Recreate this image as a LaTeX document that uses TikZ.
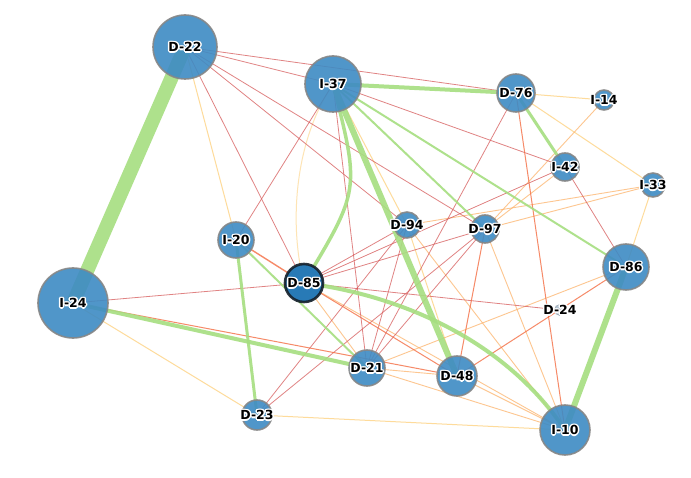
\documentclass[tikz,border=0pt]{standalone}
\usepackage{fontspec}
\newfontfamily\lblfont{DejaVu Sans}
\usetikzlibrary{calc}
\pgfdeclarelayer{bg}
\pgfsetlayers{bg,main}
\definecolor{ngreen}{RGB}{166,222,128}
\definecolor{nred}{RGB}{214,90,90}
\definecolor{nored}{RGB}{244,109,67}
\definecolor{norange}{RGB}{253,174,97}
\definecolor{nyellow}{RGB}{254,210,130}
\definecolor{nodefill}{RGB}{62,139,196}
\definecolor{nodeborder}{RGB}{135,135,135}
\definecolor{selfill}{RGB}{40,122,182}
\definecolor{selborder}{RGB}{22,32,42}
\definecolor{dimfill}{RGB}{172,190,206}
\tikzset{
  vert/.style={circle, fill=nodefill, fill opacity=0.9, draw=nodeborder, draw opacity=0.9, line width=1.6pt, inner sep=0pt, minimum size=#1},
  selvert/.style={vert=#1, fill=selfill, fill opacity=1, draw=selborder, line width=2.6pt},
  dimvert/.style={vert=#1, fill=dimfill, draw=dimfill!70!gray, line width=0.8pt},
  gl/.style={draw=ngreen, line width=#1, opacity=0.9},
  rl/.style={draw=nred, line width=0.8pt, opacity=0.75},
  orl/.style={draw=nored, line width=1pt, opacity=0.8},
  ol/.style={draw=norange, line width=0.9pt, opacity=0.7},
  yl/.style={draw=nyellow, line width=1pt, opacity=0.8},
  lbl/.style={font={\fontsize{12.5}{14}\lblfont\bfseries}, inner sep=0pt},
}
\newcommand\vlabel[2]{%
  \foreach \ang in {0,45,...,315}{\node[lbl,text=white] at ($(#1)+(\ang:1.5)$) {#2};}
  \node[lbl] (#1-t) at (#1) {#2};
}
\begin{document}
\begin{tikzpicture}[x=1pt,y=-1pt]
\useasboundingbox (0,0) rectangle (691,478);
% nodes
\foreach \n/\x/\y/\d in {D22/185/47/64, I37/333/84/56, D76/516/93/38, I14/604/100/20,
  I42/565/167/28, I33/653/185/24, I24/73/303/70, I20/236/240/36, D94/407/225/26,
  D97/485/229/28, D86/626/267/46, D21/367/368/36, D48/457/376/40, D23/257/415/30, I10/565/430/50}
  {\node[vert=\d pt] (\n) at (\x,\y) {};}
\node[selvert=38pt] (D85) at (304,283) {};
\node[dimvert=11pt] (D24) at (560,310) {};
% edges
\begin{pgfonlayer}{bg}
\fill[white] (0,0) rectangle (691,478);
\foreach \a/\b in {D22/I20, I37/D94, D94/D48, D76/I14, D76/I33, I33/D86, I24/D23, D23/I10}
  {\draw[yl] (\a.center) -- (\b.center);}
\draw[yl, opacity=0.6] (I37.center) .. controls (292,145) and (290,230) .. (D85.center);
\foreach \a/\b in {D85/D21, D85/I10, D21/I10, D21/D86, D21/D48, I14/D97, I33/D94, I33/D97,
  I42/D97, D94/I10, D97/I10, D48/I10}
  {\draw[ol] (\a.center) -- (\b.center);}
\foreach \a/\b in {D22/D85, D22/D94, D22/D97, D22/I37, D22/D76, I37/I42, I37/I20, I37/D21,
  D76/D21, I42/D85, I42/D86, D94/D85, D97/D85, D94/D21, D97/D21, D94/D23, D97/D23, I24/D85, D85/D24}
  {\draw[rl] (\a.center) -- (\b.center);}
\foreach \a/\b in {D85/D48, D86/D48, D76/I10, D97/D48, I24/D48}
  {\draw[orl] (\a.center) -- (\b.center);}
\draw[orl, line width=1.4pt] (D85.center) -- (I20.center);
\foreach \a/\b/\w in {D22/I24/14, I37/D76/4, I37/D48/6, I37/D86/2, I37/D97/2, D76/I42/3,
  D86/I10/6, I24/D21/4, I20/D23/3, I20/D21/2}
  {\draw[gl=\w pt] (\a.center) -- (\b.center);}
\draw[gl=3.5pt] (I37.center) .. controls (360,190) .. (D85.center);
\draw[gl=4pt] (D85.center) .. controls (400,295) and (505,340) .. (I10.center);
\end{pgfonlayer}
% labels
\foreach \n/\t in {D22/D-22, I37/I-37, D76/D-76, I14/I-14, I42/I-42, I33/I-33, I24/I-24,
  I20/I-20, D85/D-85, D94/D-94, D97/D-97, D86/D-86, D24/D-24, D21/D-21, D48/D-48, D23/D-23, I10/I-10}
  {\vlabel{\n}{\t}}
\end{tikzpicture}
\end{document}
